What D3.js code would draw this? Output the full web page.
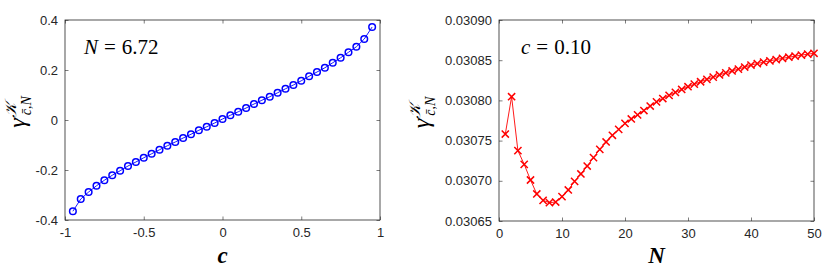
<!DOCTYPE html>
<html>
<head>
<meta charset="utf-8">
<script src="https://cdn.jsdelivr.net/npm/d3@7"></script>
<style>
  body { margin: 0; background: #fff; }
  .axis text { font-family: "Liberation Sans", Arial, sans-serif; font-size: 13px; fill: #262626; }
  .axis line { stroke: #262626; stroke-width: 0.6; }
  .axis path { display: none; }
  .math { font-family: "Liberation Serif", "DejaVu Serif", serif; fill: #000; }
</style>
</head>
<body>
<div id="chart"></div>
<script>
// left panel: gamma vs c at N = 6.72
var cValues = [-0.95, -0.90, -0.85, -0.80, -0.75, -0.70, -0.65, -0.60, -0.55, -0.50,
  -0.45, -0.40, -0.35, -0.30, -0.25, -0.20, -0.15, -0.10, -0.05, 0.00,
  0.05, 0.10, 0.15, 0.20, 0.25, 0.30, 0.35, 0.40, 0.45, 0.50,
  0.55, 0.60, 0.65, 0.70, 0.75, 0.80, 0.85, 0.90, 0.95];
var gammaC = [-0.365, -0.316, -0.288, -0.263, -0.241, -0.221, -0.203, -0.184, -0.168, -0.151,
  -0.135, -0.119, -0.103, -0.088, -0.072, -0.057, -0.041, -0.027, -0.012, 0.004,
  0.019, 0.033, 0.048, 0.064, 0.079, 0.093, 0.109, 0.125, 0.140, 0.157,
  0.175, 0.192, 0.209, 0.229, 0.249, 0.271, 0.293, 0.324, 0.372];
var cTicks = [-1, -0.5, 0, 0.5, 1];
var cTickLabels = ['-1', '-0.5', '0', '0.5', '1'];
var gammaCTicks = [-0.4, -0.2, 0, 0.2, 0.4];
var gammaCTickLabels = ['-0.4', '-0.2', '0', '0.2', '0.4'];

// right panel: gamma vs N at c = 0.10
var nValues = [1, 2, 3, 4, 5, 6, 7, 8, 9, 10, 11, 12, 13, 14, 15, 16, 17, 18, 19, 20,
  21, 22, 23, 24, 25, 26, 27, 28, 29, 30, 31, 32, 33, 34, 35, 36, 37, 38, 39, 40,
  41, 42, 43, 44, 45, 46, 47, 48, 49, 50];
var gammaN = [0.0307582, 0.0308046, 0.0307375, 0.0307205, 0.0307010, 0.0306836, 0.0306757, 0.0306728, 0.0306736, 0.0306803,
  0.0306886, 0.0306993, 0.0307085, 0.0307184, 0.0307288, 0.0307391, 0.0307483, 0.0307566, 0.0307640, 0.0307715,
  0.0307769, 0.0307820, 0.0307874, 0.0307930, 0.0307982, 0.0308023, 0.0308062, 0.0308100, 0.0308136, 0.0308170,
  0.0308202, 0.0308232, 0.0308261, 0.0308289, 0.0308316, 0.0308342, 0.0308366, 0.0308389, 0.0308415, 0.0308440,
  0.0308458, 0.0308476, 0.0308492, 0.0308508, 0.0308523, 0.0308537, 0.0308550, 0.0308563, 0.0308575, 0.0308586];
var nTicks = [0, 10, 20, 30, 40, 50];
var nTickLabels = ['0', '10', '20', '30', '40', '50'];
var gammaNTicks = [0.03065, 0.03070, 0.03075, 0.03080, 0.03085, 0.03090];
var gammaNTickLabels = ['0.03065', '0.03070', '0.03075', '0.03080', '0.03085', '0.03090'];

var svg = d3.select('#chart').append('svg')
  .attr('width', 830)
  .attr('height', 277);

function drawPanel(opts) {
  var xScale = d3.scaleLinear().domain(opts.xDomain).range(opts.xRange);
  var yScale = d3.scaleLinear().domain(opts.yDomain).range(opts.yRange);
  var x0 = opts.xRange[0], x1 = opts.xRange[1];
  var y0 = opts.yRange[0], y1 = opts.yRange[1];
  var tick = 3.5;

  var g = svg.append('g');

  g.append('rect')
    .attr('x', x0).attr('y', y1)
    .attr('width', x1 - x0).attr('height', y0 - y1)
    .attr('fill', '#fff')
    .attr('stroke', '#262626')
    .attr('stroke-width', 0.8);

  g.append('g').attr('class', 'axis')
    .attr('transform', 'translate(0,' + y0 + ')')
    .call(d3.axisBottom(xScale).tickValues(opts.xTicks)
      .tickFormat(function (d, i) { return opts.xTickLabels[i]; })
      .tickSizeInner(-tick).tickSizeOuter(0).tickPadding(8));
  g.append('g').attr('class', 'axis')
    .attr('transform', 'translate(0,' + y1 + ')')
    .call(d3.axisTop(xScale).tickValues(opts.xTicks).tickFormat('')
      .tickSizeInner(-tick).tickSizeOuter(0));
  g.append('g').attr('class', 'axis')
    .attr('transform', 'translate(' + x0 + ',0)')
    .call(d3.axisLeft(yScale).tickValues(opts.yTicks)
      .tickFormat(function (d, i) { return opts.yTickLabels[i]; })
      .tickSizeInner(-tick).tickSizeOuter(0).tickPadding(7));
  g.append('g').attr('class', 'axis')
    .attr('transform', 'translate(' + x1 + ',0)')
    .call(d3.axisRight(yScale).tickValues(opts.yTicks).tickFormat('')
      .tickSizeInner(-tick).tickSizeOuter(0));

  var points = opts.xs.map(function (d, i) { return [d, opts.ys[i]]; });

  var line = d3.line()
    .x(function (d) { return xScale(d[0]); })
    .y(function (d) { return yScale(d[1]); });

  g.append('path')
    .datum(points)
    .attr('d', line)
    .attr('fill', 'none')
    .attr('stroke', opts.color)
    .attr('stroke-width', 0.9);

  if (opts.marker === 'circle') {
    g.selectAll('circle.pt').data(points).enter().append('circle')
      .attr('class', 'pt')
      .attr('cx', function (d) { return xScale(d[0]); })
      .attr('cy', function (d) { return yScale(d[1]); })
      .attr('r', 3.3)
      .attr('fill', 'none')
      .attr('stroke', opts.color)
      .attr('stroke-width', 1.5);
  } else {
    var s = 3.6;
    g.selectAll('path.pt').data(points).enter().append('path')
      .attr('class', 'pt')
      .attr('d', function (d) {
        var px = xScale(d[0]), py = yScale(d[1]);
        return 'M' + (px - s) + ',' + (py - s) + 'L' + (px + s) + ',' + (py + s) +
          'M' + (px - s) + ',' + (py + s) + 'L' + (px + s) + ',' + (py - s);
      })
      .attr('stroke', opts.color)
      .attr('stroke-width', 1.5);
  }

  // x label
  g.append('text')
    .attr('class', 'math')
    .attr('x', (x0 + x1) / 2)
    .attr('y', 263)
    .attr('text-anchor', 'middle')
    .style('font-size', '23px')
    .style('font-weight', 'bold')
    .style('font-style', 'italic')
    .text(opts.xLabel);

  // y label
  var yl = g.append('text')
    .attr('class', 'math')
    .attr('transform', 'translate(' + opts.yLabelX + ',' + ((y0 + y1) / 2 - 8) + ') rotate(-90)')
    .attr('text-anchor', 'middle')
    .style('font-size', '24px');
  yl.append('tspan').style('font-style', 'italic').text('\u03b3');
  yl.append('tspan').attr('dy', -9).style('font-size', '16px').style('font-style', 'italic').text('\ud835\udca6');
  yl.append('tspan').attr('dx', -12).attr('dy', 15).style('font-size', '14px').style('font-style', 'italic').text('c\u0304,N');

  // annotation
  var ann = g.append('text')
    .attr('class', 'math')
    .attr('x', opts.annX)
    .attr('y', 54)
    .style('font-size', '21px');
  ann.append('tspan').style('font-style', 'italic').text(opts.annVar);
  ann.append('tspan').attr('dx', 6).text('=');
  ann.append('tspan').attr('dx', 6).text(opts.annValue);
}

drawPanel({
  xDomain: [-1, 1], xRange: [65, 380],
  yDomain: [-0.4, 0.4], yRange: [220, 20],
  xTicks: cTicks, xTickLabels: cTickLabels,
  yTicks: gammaCTicks, yTickLabels: gammaCTickLabels,
  xs: cValues, ys: gammaC,
  color: '#0000ff', marker: 'circle',
  xLabel: 'c', yLabelX: 25,
  annX: 84, annVar: 'N', annValue: '6.72'
});

drawPanel({
  xDomain: [0, 50], xRange: [499, 814],
  yDomain: [0.03065, 0.03090], yRange: [221, 20],
  xTicks: nTicks, xTickLabels: nTickLabels,
  yTicks: gammaNTicks, yTickLabels: gammaNTickLabels,
  xs: nValues, ys: gammaN,
  color: '#ff0000', marker: 'cross',
  xLabel: 'N', yLabelX: 429,
  annX: 521, annVar: 'c', annValue: '0.10'
});
</script>
</body>
</html>
